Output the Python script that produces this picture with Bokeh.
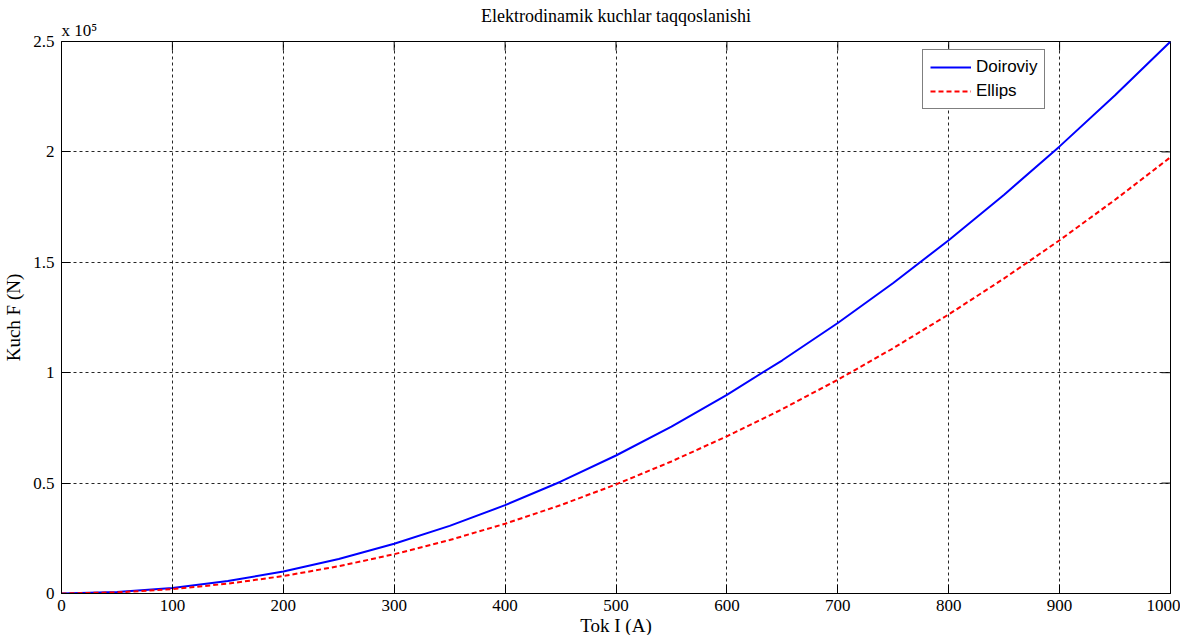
from bokeh.plotting import figure
from bokeh.models import Legend, LegendItem, FixedTicker, Range1d, Title
from bokeh.embed import file_html
from bokeh.resources import INLINE

current_A = [0, 50, 100, 150, 200, 250, 300, 350, 400, 450, 500,
             550, 600, 650, 700, 750, 800, 850, 900, 950, 1000]
force_doiroviy = [0, 625, 2500, 5625, 10000, 15625, 22500, 30625, 40000, 50625, 62500,
                  75625, 90000, 105625, 122500, 140625, 160000, 180625, 202500, 225625, 250000]
force_ellips = [0, 500, 1980, 4450, 7900, 12350, 17800, 24200, 31600, 40000, 49400,
                59800, 71200, 83500, 96800, 111100, 126400, 142700, 160000, 178300, 197600]
x_ticks = [0, 100, 200, 300, 400, 500, 600, 700, 800, 900, 1000]
y_ticks = [0, 50000, 100000, 150000, 200000, 250000]
y_tick_labels = ["0", "0.5", "1", "1.5", "2", "2.5"]

SERIF = "Liberation Serif"

p = figure(frame_width=1109, frame_height=552, output_backend="svg", toolbar_location=None,
           x_range=Range1d(x_ticks[0], x_ticks[-1]), y_range=Range1d(y_ticks[0], y_ticks[-1]),
           x_axis_label="Tok I (A)", y_axis_label="Kuch F (N)",
           min_border_left=54, min_border_right=10, min_border_top=33, min_border_bottom=0)

exp_title = Title(text="x 10\u2075", align="left", text_font=SERIF, text_font_size="17px",
                  text_font_style="normal", text_color="#000000", standoff=4)
p.add_layout(exp_title, "above")

# leading empty line pushes the visible title text down inside its row
p.title.text = "\nElektrodinamik kuchlar taqqoslanishi"
p.title.align = "center"
p.title.text_font = SERIF
p.title.text_font_style = "normal"
p.title.text_font_size = "18px"
p.title.text_color = "#000000"
p.title.text_line_height = 0.6
p.title.standoff = -18

p.outline_line_color = "#000000"
p.outline_line_width = 1
p.background_fill_color = "white"
p.border_fill_color = "white"

for ax in (p.xaxis[0], p.yaxis[0]):
    ax.major_label_text_font = SERIF
    ax.major_label_text_font_size = "17px"
    ax.major_label_text_color = "#000000"
    ax.axis_label_text_font = SERIF
    ax.axis_label_text_font_size = "19px"
    ax.axis_label_text_font_style = "normal"
    ax.axis_label_text_color = "#000000"
    ax.major_tick_in = 9
    ax.major_tick_out = 0
    ax.minor_tick_line_color = None
    ax.axis_line_color = "#000000"
    ax.major_tick_line_color = "#000000"

p.xaxis[0].ticker = FixedTicker(ticks=x_ticks)
p.yaxis[0].ticker = FixedTicker(ticks=y_ticks)
p.yaxis[0].major_label_overrides = {t: l for t, l in zip(y_ticks, y_tick_labels)}
p.xaxis[0].major_label_standoff = 6
p.xaxis[0].axis_label_standoff = 1
p.yaxis[0].major_label_standoff = 7
p.yaxis[0].axis_label_standoff = 6

# inward ticks on the top and right edges of the box
p.ray(x=x_ticks, y=[y_ticks[-1]] * len(x_ticks), length=9, length_units="screen",
      angle=-90, angle_units="deg", line_color="#000000", line_width=1)
p.ray(x=[x_ticks[-1]] * len(y_ticks), y=y_ticks, length=9, length_units="screen",
      angle=180, angle_units="deg", line_color="#000000", line_width=1)

p.xgrid.ticker = FixedTicker(ticks=x_ticks)
p.ygrid.ticker = FixedTicker(ticks=y_ticks)
for g in (p.xgrid[0], p.ygrid[0]):
    g.grid_line_color = "#000000"
    g.grid_line_alpha = 0.85
    g.grid_line_dash = "3 3"
    g.grid_line_width = 1

r1 = p.line(current_A, force_doiroviy, line_color="#0000ff", line_width=2)
r2 = p.line(current_A, force_ellips, line_color="#ff0000", line_width=2, line_dash="5 3")

legend = Legend(items=[LegendItem(label="Doiroviy", renderers=[r1]),
                       LegendItem(label="Ellips", renderers=[r2])],
                location=(861, 484))
legend.label_text_font = "Liberation Sans"
legend.label_text_font_size = "17px"
legend.label_text_color = "#000000"
legend.glyph_width = 41
legend.glyph_height = 20
legend.label_standoff = 5
legend.spacing = 4
legend.padding = 7
legend.margin = 0
legend.border_line_color = "#000000"
legend.border_line_width = 1
legend.background_fill_color = "white"
legend.background_fill_alpha = 1
p.add_layout(legend, "center")

open("out.html", "w").write(file_html(p, INLINE))
